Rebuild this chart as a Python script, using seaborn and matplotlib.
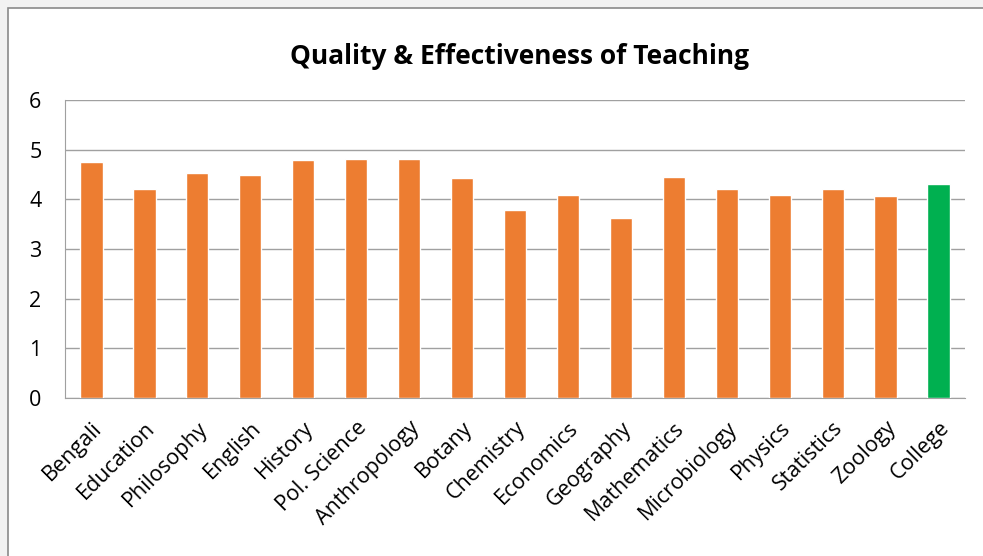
import matplotlib
matplotlib.use("Agg")
import matplotlib.pyplot as plt
import seaborn as sns
import pandas as pd
from matplotlib.patches import Rectangle

categories = ["Bengali", "Education", "Philosophy", "English", "History", "Pol. Science",
              "Anthropology", "Botany", "Chemistry", "Economics", "Geography", "Mathematics",
              "Microbiology", "Physics", "Statistics", "Zoology", "College"]
values = [4.75, 4.2, 4.53, 4.5, 4.79, 4.81, 4.81, 4.43, 3.79, 4.09, 3.63, 4.45,
          4.2, 4.09, 4.2, 4.07, 4.3]
title = "Quality & Effectiveness of Teaching"

orange = "#ED7D31"
green = "#00B050"
colors = [green if c == "College" else orange for c in categories]

df = pd.DataFrame({"cat": categories, "val": values})

sns.set_style("white")
plt.rcParams["font.family"] = ["Open Sans", "DejaVu Sans"]
plt.rcParams["text.color"] = "black"

fig = plt.figure(figsize=(9.83, 5.56), dpi=100)
fig.patch.set_facecolor("#f2f2f2")
# white chart area with grey top/left border
bg = Rectangle((8 / 983, -0.1), 1.2, 1.1 - 8 / 556, transform=fig.transFigure,
               facecolor="white", edgecolor="#8a8a8a", linewidth=1.2, zorder=-10)
fig.add_artist(bg)

ax = fig.add_axes([65 / 983, 1 - 398 / 556, 900 / 983, 298 / 556])
ax.set_zorder(1)
ax.set_facecolor("white")
sns.barplot(data=df, x="cat", y="val", hue="cat", palette=colors, legend=False,
            width=0.42, ax=ax, zorder=3, saturation=1)

ax.set_ylim(0, 6)
ax.set_yticks(range(0, 7))
ax.set_xlim(-0.5, len(categories) - 0.5)
ax.yaxis.grid(True, color="#a0a0a0", linewidth=1)
ax.set_axisbelow(True)
for s in ["top", "right"]:
    ax.spines[s].set_visible(False)
ax.spines["left"].set_color("#a0a0a0")
ax.spines["bottom"].set_color("#a0a0a0")
ax.set_xlabel("")
ax.set_ylabel("")
ax.tick_params(axis="both", length=0, labelsize=15.5, colors="black")
ax.tick_params(axis="y", pad=17)
plt.setp(ax.get_xticklabels(), rotation=45, ha="right", rotation_mode="anchor")
ax.tick_params(axis="x", pad=14)

fig.text(519 / 983, 1 - 57 / 556, title, ha="center", va="center",
         fontsize=19, fontweight="bold", color="black")

fig.savefig("out.png", dpi=100, facecolor=fig.get_facecolor())
